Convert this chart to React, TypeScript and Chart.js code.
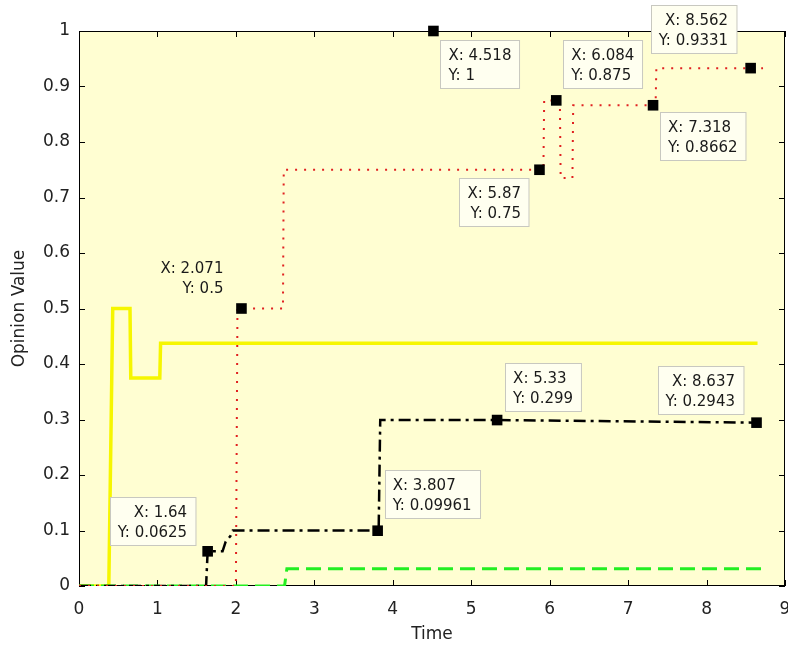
import React, { useEffect, useRef } from 'react';
import { Chart, registerables } from 'chart.js';

Chart.register(...registerables);

const xTickLabels = ['0', '1', '2', '3', '4', '5', '6', '7', '8', '9'];
const yTickLabels = ['0', '0.1', '0.2', '0.3', '0.4', '0.5', '0.6', '0.7', '0.8', '0.9', '1'];

const yellowX = [0, 0.38, 0.43, 0.65, 0.66, 1.03, 1.04, 8.65];
const yellowY = [0, 0, 0.5, 0.5, 0.375, 0.375, 0.4375, 0.4375];

const redX = [0, 2.0, 2.02, 2.6, 2.61, 5.92, 5.93, 6.13, 6.14, 6.29, 6.3, 7.35, 7.36, 8.72];
const redY = [0, 0, 0.5, 0.5, 0.75, 0.75, 0.875, 0.875, 0.735, 0.735, 0.8662, 0.8662, 0.9331, 0.9331];

const blackX = [0, 1.62, 1.64, 1.83, 1.87, 1.93, 1.96, 3.82, 3.84, 5.33, 8.6];
const blackY = [0, 0, 0.0625, 0.0625, 0.08, 0.09, 0.1, 0.1, 0.299, 0.299, 0.2943];

const greenX = [0, 2.62, 2.65, 8.72];
const greenY = [0, 0, 0.031, 0.031];

const tipX = [1.64, 2.071, 3.807, 4.518, 5.33, 5.87, 6.084, 7.318, 8.562, 8.637];
const tipY = [0.0625, 0.5, 0.09961, 1, 0.299, 0.75, 0.875, 0.8662, 0.9331, 0.2943];

// datatip box placement relative to its marker (pixels): [dx, dy, boxed]
const tipPlacement: [number, number, boolean][] = [
  [-98, -54, true],
  [-18, -55, false],
  [7, -61, true],
  [7, 9, true],
  [8, -57, true],
  [-80, 8, true],
  [7, -60, true],
  [7, 7, true],
  [-100, -63, true],
  [-99, -57, true],
];

const pts = (xs: number[], ys: number[]) => xs.map((x, i) => ({ x, y: ys[i] }));

const TIP_FONT = '15px "DejaVu Sans"';
const AXIS_FONT = { family: 'DejaVu Sans', size: 17 };

const matlabPlugin = {
  id: 'matlabLook',
  beforeDraw(chart: any) {
    const { ctx, chartArea: a } = chart;
    ctx.save();
    ctx.fillStyle = '#ffffff';
    ctx.fillRect(0, 0, chart.width, chart.height);
    ctx.fillStyle = '#FFFED2';
    ctx.fillRect(a.left, a.top, a.right - a.left, a.bottom - a.top);
    ctx.restore();
  },
  beforeDatasetsDraw(chart: any) {
    const { ctx, chartArea: a, scales } = chart;
    ctx.save();
    ctx.strokeStyle = '#000';
    ctx.lineWidth = 1;
    ctx.strokeRect(a.left + 0.5, a.top + 0.5, a.right - a.left - 1, a.bottom - a.top - 1);
    ctx.beginPath();
    const tl = 6;
    scales.x.ticks.forEach((t: any) => {
      const px = Math.round(scales.x.getPixelForValue(t.value)) + 0.5;
      ctx.moveTo(px, a.bottom);
      ctx.lineTo(px, a.bottom - tl);
      ctx.moveTo(px, a.top);
      ctx.lineTo(px, a.top + tl);
    });
    scales.y.ticks.forEach((t: any) => {
      const py = Math.round(scales.y.getPixelForValue(t.value)) + 0.5;
      ctx.moveTo(a.left, py);
      ctx.lineTo(a.left + tl, py);
      ctx.moveTo(a.right, py);
      ctx.lineTo(a.right - tl, py);
    });
    ctx.stroke();
    ctx.restore();
  },
  afterDatasetsDraw(chart: any) {
    const { ctx, scales } = chart;
    ctx.save();
    ctx.font = TIP_FONT;
    ctx.textBaseline = 'middle';
    tipX.forEach((xv, i) => {
      const [dx, dy, boxed] = tipPlacement[i];
      const px = scales.x.getPixelForValue(xv);
      const py = scales.y.getPixelForValue(tipY[i]);
      const l1 = `X: ${xv}`;
      const l2 = `Y: ${tipY[i]}`;
      const w = Math.max(ctx.measureText(l1).width, ctx.measureText(l2).width) + 16;
      const h = 48;
      const rightAligned = dx < 0;
      const bx = px + dx;
      const by = py + dy;
      if (boxed) {
        ctx.fillStyle = '#FFFFF0';
        ctx.fillRect(Math.round(bx) + 0.5, Math.round(by) + 0.5, w, h);
        ctx.strokeStyle = '#C8C8C0';
        ctx.lineWidth = 1;
        ctx.strokeRect(Math.round(bx) + 0.5, Math.round(by) + 0.5, w, h);
      }
      ctx.fillStyle = '#1a1a1a';
      if (rightAligned) {
        ctx.textAlign = 'right';
        const rx = boxed ? bx + w - 8 : px + dx;
        ctx.fillText(l1, rx, by + 16);
        ctx.fillText(l2, rx, by + 36);
      } else {
        ctx.textAlign = 'left';
        ctx.fillText(l1, bx + 8, by + 16);
        ctx.fillText(l2, bx + 8, by + 36);
      }
    });
    ctx.restore();
  },
};

export default function App() {
  const ref = useRef<HTMLCanvasElement | null>(null);

  useEffect(() => {
    if (!ref.current) return;
    const chart = new Chart(ref.current, {
      type: 'line',
      data: {
        datasets: [
          {
            label: 'tips',
            type: 'scatter',
            data: pts(tipX, tipY),
            pointStyle: 'rect',
            pointRadius: 7.5,
            pointBackgroundColor: '#000',
            pointBorderColor: '#000',
            pointBorderWidth: 0,
            showLine: false,
            clip: false as any,
            order: 0,
          },
          {
            label: 'red',
            data: pts(redX, redY),
            borderColor: '#E02020',
            borderWidth: 2,
            borderDash: [2, 7],
            pointRadius: 0,
            tension: 0,
            fill: false,
            order: 1,
          },
          {
            label: 'black',
            data: pts(blackX, blackY),
            borderColor: '#000',
            borderWidth: 2.5,
            borderDash: [12, 5, 3, 5],
            pointRadius: 0,
            tension: 0,
            fill: false,
            order: 2,
          },
          {
            label: 'green',
            data: pts(greenX, greenY),
            borderColor: '#22EE22',
            borderWidth: 3,
            borderDash: [15, 7],
            pointRadius: 0,
            tension: 0,
            fill: false,
            order: 3,
          },
          {
            label: 'yellow',
            data: pts(yellowX, yellowY),
            borderColor: '#F6F600',
            borderWidth: 3.5,
            pointRadius: 0,
            tension: 0,
            fill: false,
            order: 4,
          },
        ],
      },
      options: {
        animation: false,
        responsive: false,
        layout: { autoPadding: false, padding: { top: 31, right: 3, left: 0, bottom: 0 } },
        plugins: { legend: { display: false }, tooltip: { enabled: false } },
        scales: {
          x: {
            type: 'linear',
            min: 0,
            max: 9,
            ticks: {
              stepSize: 1,
              font: AXIS_FONT,
              color: '#222',
              padding: 13,
              maxRotation: 0,
              autoSkip: false,
              callback: (_v: any, i: number) => xTickLabels[i],
            },
            grid: { display: false, drawTicks: false },
            border: { display: false },
            title: { display: true, text: 'Time', font: AXIS_FONT, color: '#222', padding: { top: 0, bottom: 2 } },
            afterFit: (s: any) => {
              s.height = 61;
              s.paddingLeft = 0;
              s.paddingRight = 0;
            },
          },
          y: {
            type: 'linear',
            min: 0,
            max: 1,
            ticks: {
              stepSize: 0.1,
              font: AXIS_FONT,
              color: '#222',
              padding: 9,
              autoSkip: false,
              callback: (_v: any, i: number) => yTickLabels[i],
            },
            grid: { display: false, drawTicks: false },
            border: { display: false },
            title: { display: true, text: 'Opinion Value', font: AXIS_FONT, color: '#222', padding: { top: 9, bottom: 0 } },
            afterFit: (s: any) => {
              s.width = 79;
              s.paddingTop = 0;
              s.paddingBottom = 0;
            },
          },
        },
      },
      plugins: [matlabPlugin],
    });
    return () => chart.destroy();
  }, []);

  return (
    <div style={{ position: 'absolute', left: 0, top: 0, width: 788, height: 647 }}>
      <canvas ref={ref} width={788} height={647} />
    </div>
  );
}
